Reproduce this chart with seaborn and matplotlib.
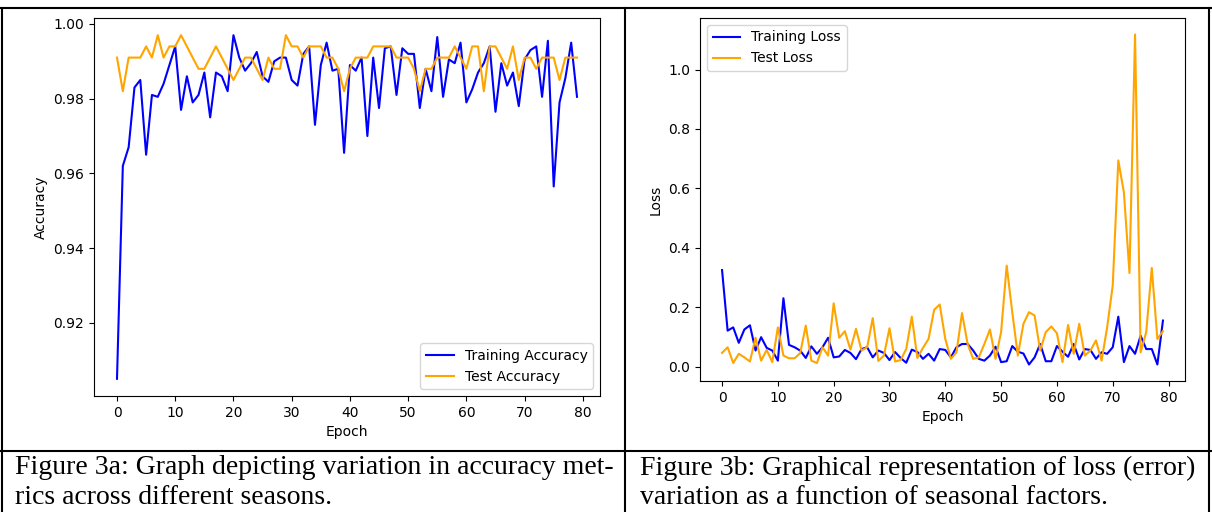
import matplotlib
matplotlib.use("Agg")
import matplotlib.pyplot as plt
import seaborn as sns
import pandas as pd
from matplotlib.lines import Line2D

epochs = list(range(80))

train_acc = [0.905, 0.962, 0.967, 0.983, 0.985, 0.965, 0.981, 0.9805, 0.984, 0.989,
             0.994, 0.977, 0.986, 0.979, 0.981, 0.987, 0.975, 0.987, 0.986, 0.982,
             0.997, 0.991, 0.9875, 0.9895, 0.9925, 0.986, 0.9845, 0.990, 0.991, 0.991,
             0.985, 0.9835, 0.992, 0.994, 0.973, 0.989, 0.995, 0.9875, 0.988, 0.9655,
             0.989, 0.9875, 0.991, 0.970, 0.991, 0.9775, 0.9935, 0.994, 0.981, 0.9935,
             0.992, 0.992, 0.9775, 0.988, 0.982, 0.9965, 0.9805, 0.9905, 0.9895, 0.995,
             0.979, 0.9825, 0.987, 0.9895, 0.994, 0.9765, 0.9895, 0.9835, 0.987, 0.978,
             0.9905, 0.993, 0.994, 0.9805, 0.9955, 0.9565, 0.979, 0.9855, 0.995, 0.9805]

test_acc = [0.991, 0.982, 0.991, 0.991, 0.991, 0.994, 0.991, 0.997, 0.991, 0.994,
            0.994, 0.997, 0.994, 0.991, 0.988, 0.988, 0.991, 0.994, 0.991, 0.988,
            0.985, 0.988, 0.991, 0.991, 0.988, 0.985, 0.991, 0.988, 0.988, 0.997,
            0.994, 0.994, 0.991, 0.994, 0.994, 0.994, 0.991, 0.991, 0.988, 0.982,
            0.988, 0.991, 0.991, 0.991, 0.994, 0.994, 0.994, 0.994, 0.991, 0.991,
            0.991, 0.988, 0.982, 0.988, 0.988, 0.991, 0.991, 0.991, 0.994, 0.991,
            0.988, 0.994, 0.994, 0.982, 0.994, 0.994, 0.991, 0.988, 0.994, 0.985,
            0.991, 0.991, 0.988, 0.991, 0.991, 0.991, 0.985, 0.991, 0.991, 0.991]

train_loss = [0.325, 0.121, 0.132, 0.080, 0.125, 0.139, 0.054, 0.099, 0.063, 0.054,
              0.020, 0.230, 0.073, 0.065, 0.054, 0.029, 0.068, 0.043, 0.065, 0.097,
              0.031, 0.034, 0.056, 0.046, 0.025, 0.059, 0.065, 0.031, 0.054, 0.046,
              0.022, 0.049, 0.029, 0.013, 0.057, 0.049, 0.026, 0.043, 0.020, 0.059,
              0.056, 0.031, 0.065, 0.076, 0.076, 0.054, 0.026, 0.020, 0.037, 0.067,
              0.015, 0.018, 0.069, 0.050, 0.044, 0.007, 0.031, 0.076, 0.018, 0.018,
              0.069, 0.050, 0.033, 0.076, 0.024, 0.059, 0.056, 0.026, 0.048, 0.043,
              0.065, 0.168, 0.015, 0.069, 0.043, 0.104, 0.059, 0.059, 0.007, 0.155]

test_loss = [0.046, 0.065, 0.012, 0.043, 0.031, 0.017, 0.097, 0.020, 0.056, 0.015,
             0.132, 0.037, 0.028, 0.028, 0.045, 0.138, 0.020, 0.012, 0.065, 0.037,
             0.213, 0.097, 0.119, 0.057, 0.127, 0.054, 0.065, 0.163, 0.019, 0.037,
             0.129, 0.017, 0.022, 0.059, 0.168, 0.029, 0.063, 0.093, 0.191, 0.209,
             0.093, 0.026, 0.048, 0.180, 0.076, 0.026, 0.031, 0.076, 0.125, 0.026,
             0.116, 0.340, 0.183, 0.037, 0.144, 0.183, 0.172, 0.054, 0.116, 0.135,
             0.112, 0.015, 0.140, 0.043, 0.144, 0.037, 0.054, 0.088, 0.020, 0.132,
             0.273, 0.694, 0.587, 0.315, 1.118, 0.048, 0.116, 0.332, 0.093, 0.119]

caption_a = ["Figure 3a: Graph depicting variation in accuracy met-",
             "rics across different seasons."]
caption_b = ["Figure 3b: Graphical representation of loss (error)",
             "variation as a function of seasonal factors."]

df = pd.DataFrame({"epoch": epochs, "train_acc": train_acc, "test_acc": test_acc,
                   "train_loss": train_loss, "test_loss": test_loss})

plt.rcParams["font.size"] = 10
W, H = 1212, 512
fig = plt.figure(figsize=(W / 100, H / 100), dpi=100)


def box(x0, y0, x1, y1):
    # pixel box (top-left origin) -> figure fractions
    return [x0 / W, 1 - y1 / H, (x1 - x0) / W, (y1 - y0) / H]


# accuracy panel
ax1 = fig.add_axes(box(94, 18, 600, 396))
sns.lineplot(x="epoch", y="train_acc", data=df, color="blue", label="Training Accuracy", ax=ax1)
sns.lineplot(x="epoch", y="test_acc", data=df, color="orange", label="Test Accuracy", ax=ax1)
ax1.set_xlabel("Epoch")
ax1.set_ylabel("Accuracy")
ax1.set_xticks(range(0, 81, 10))
ax1.legend(loc="lower right")

# loss panel
ax2 = fig.add_axes(box(700, 18, 1185, 381))
sns.lineplot(x="epoch", y="train_loss", data=df, color="blue", label="Training Loss", ax=ax2)
sns.lineplot(x="epoch", y="test_loss", data=df, color="orange", label="Test Loss", ax=ax2)
ax2.set_xlabel("Epoch")
ax2.set_ylabel("Loss")
ax2.set_xticks(range(0, 81, 10))
ax2.legend(loc="upper left")

# table frame around the two figures
def hline(y, x0=0, x1=W, lw=1.5):
    fig.add_artist(Line2D([x0 / W, x1 / W], [1 - y / H, 1 - y / H], color="black", lw=lw))


def vline(x, y0=0, y1=H, lw=1.5):
    fig.add_artist(Line2D([x / W, x / W], [1 - y0 / H, 1 - y1 / H], color="black", lw=lw))


hline(8)
hline(451)
vline(1.5, 8, H)
vline(625, 8, H)
vline(1209, 8, H)

# captions
serif = ["Liberation Serif", "DejaVu Serif"]
for i, line in enumerate(caption_a):
    fig.text(15 / W, 1 - (468 + 29 * i) / H, line, family=serif, fontsize=20, va="center", ha="left")
for i, line in enumerate(caption_b):
    fig.text(640 / W, 1 - (468 + 29 * i) / H, line, family=serif, fontsize=20, va="center", ha="left")

fig.savefig("out.png", dpi=100)
